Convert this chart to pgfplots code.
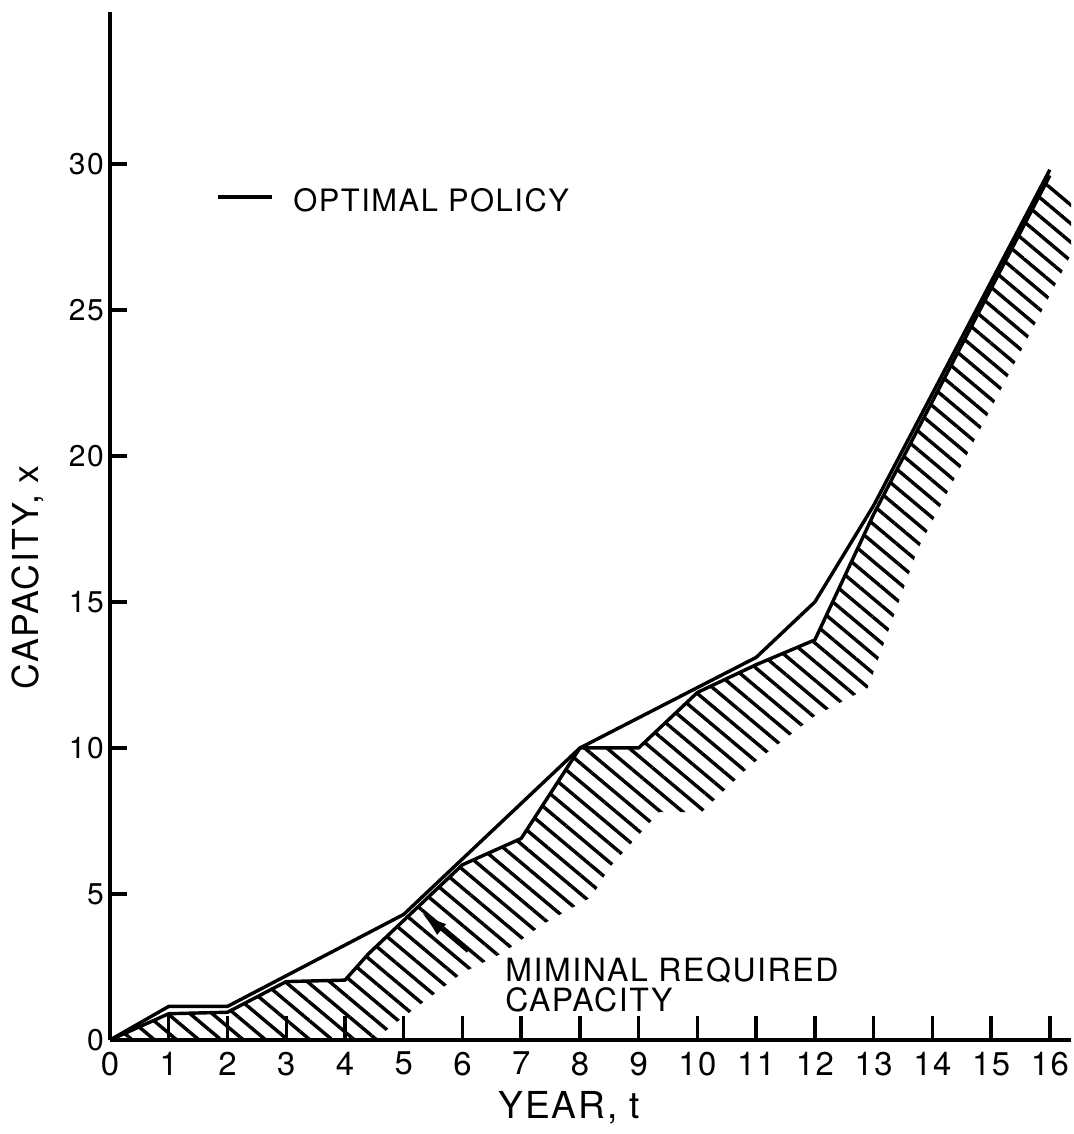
\documentclass[border=0pt]{standalone}
\usepackage{pgfplots}
\pgfplotsset{compat=1.18}
\usepackage{fontspec}
\setmainfont{TeX Gyre Heros}
\newfontfamily\lettering{TeX Gyre Heros}[LetterSpace=5]
\usetikzlibrary{patterns.meta,arrows.meta}
\begin{document}
\begin{tikzpicture}
\begin{axis}[name=ax, at={(0,0)}, anchor=south west, scale only axis,
  width=336.35pt, height=359.8pt,
  xmin=0, xmax=16.36, ymin=0, ymax=35.2,
  axis x line=bottom, axis y line=left,
  axis line style={-, line width=1.4pt, black},
  xtick={0,...,16}, ytick={0,5,...,30},
  tick align=inside, major tick length=7pt,
  tick style={line width=1.2pt, black},
  xtick style={/pgfplots/major tick length=8.5pt},
  ytick style={/pgfplots/major tick length=6pt},
  /pgf/number format/assume math mode=true,
  xticklabel style={font=\lettering\fontsize{11.5}{12}\selectfont, inner sep=0pt, anchor=north, yshift=-4pt},
  yticklabel style={font=\lettering\fontsize{10.5}{12}\selectfont, inner sep=0pt, anchor=east, xshift=-2pt},
  xlabel={YEAR, t}, ylabel={CAPACITY, x},
  xlabel style={at={(axis description cs:0.478,-0.0661)}, anchor=center, font=\lettering\fontsize{13}{14}\selectfont},
  ylabel style={at={(axis description cs:-0.0853,0.45)}, anchor=center, font=\lettering\fontsize{12.5}{14}\selectfont},
  every axis plot/.append style={mark=none, black, line join=round},
]
% hatched band below the minimal required capacity
\addplot[draw=none, pattern={Lines[angle=-40,distance=5pt,line width=1.2pt]}] coordinates {
(0,0) (1,0.9) (2,0.95) (3,2.0) (4,2.05) (4.4,2.95) (6,6.0) (7,6.9) (8,10) (9,10) (10,11.9) (11,12.85) (12,13.7) (13,18.0) (16,29.6)
(16.75,28.4) (13.75,16.8) (12.9,12.05) (12.0,11.1) (10.9,9.4) (10.07,7.8) (9.35,7.8) (8.5,5.9) (8.2,4.9) (7.4,4.0) (6.7,3.0) (6.0,2.3) (4.86,0.58) (4.5,0) (0,0)};
% minimal required capacity
\addplot[line width=1.2pt] coordinates {
(0,0) (1,0.9) (2,0.95) (3,2.0) (4,2.05) (4.4,2.95) (6,6.0) (7,6.9) (8,10) (9,10) (10,11.9) (11,12.85) (12,13.7) (13,18.0) (16,29.6)};
% optimal policy
\addplot[line width=1.2pt] coordinates {
(0,0) (1,1.15) (2,1.15) (5,4.3) (8,10) (11,13.1) (12,15) (13,18.3) (16,29.8)};
\draw[line width=1.2pt] (axis cs:1.84,28.87) -- (axis cs:2.76,28.87);
\node[anchor=base west, inner sep=0pt, font=\lettering\fontsize{10.8}{12}\selectfont] at (axis cs:3.11,28.36) {OPTIMAL POLICY};
\node[anchor=base west, inner sep=0pt, font=\lettering\fontsize{11.2}{12}\selectfont] at (axis cs:6.72,1.99) {MIMINAL REQUIRED};
\node[anchor=base west, inner sep=0pt, font=\lettering\fontsize{11.2}{12}\selectfont] at (axis cs:6.72,0.96) {CAPACITY};
\draw[line width=1pt, -{Latex[length=9pt,width=5pt]}] (axis cs:6.09,3.03) -- (axis cs:5.31,4.35);
\end{axis}
\path (ax.south west) ++(-38.5pt,-32.9pt) rectangle ++(374.85pt,396.9pt);
\end{tikzpicture}
\end{document}
